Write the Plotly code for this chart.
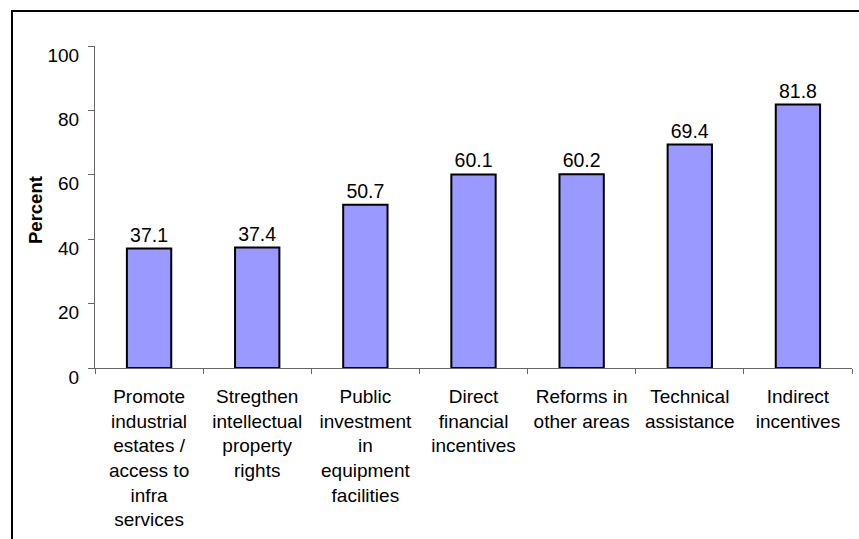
import plotly.graph_objects as go

categories = [
    "Promote<br>industrial<br>estates /<br>access to<br>infra<br>services",
    "Stregthen<br>intellectual<br>property<br>rights",
    "Public<br>investment<br>in<br>equipment<br>facilities",
    "Direct<br>financial<br>incentives",
    "Reforms in<br>other areas",
    "Technical<br>assistance",
    "Indirect<br>incentives",
]
values = [37.1, 37.4, 50.7, 60.1, 60.2, 69.4, 81.8]
y_ticks = [0, 20, 40, 60, 80, 100]

FONT = "Liberation Sans, Arial, sans-serif"

fig = go.Figure(
    go.Bar(
        x=categories,
        y=values,
        marker=dict(color="#9999FF", line=dict(color="black", width=2)),
        text=[f"{v:.1f}" for v in values],
        textposition="outside",
        textfont=dict(family=FONT, size=19.5, color="black"),
        cliponaxis=False,
        width=0.41,
    )
)

fig.update_layout(
    width=859,
    height=539,
    margin=dict(l=95, r=7, t=46, b=171),
    paper_bgcolor="white",
    plot_bgcolor="white",
    font=dict(family=FONT, size=19, color="black"),
    showlegend=False,
    xaxis=dict(
        showline=True,
        linecolor="#666666",
        linewidth=1,
        ticks="outside",
        tickson="boundaries",
        ticklen=5,
        tickcolor="#666666",
        tickfont=dict(family=FONT, size=19, color="black"),
        ticklabelstandoff=11,
        showgrid=False,
        zeroline=False,
    ),
    yaxis=dict(
        range=[0, 100],
        tickvals=y_ticks,
        showline=True,
        linecolor="#666666",
        linewidth=1,
        ticks="outside",
        ticklen=6,
        tickcolor="#666666",
        tickfont=dict(family=FONT, size=19, color="black"),
        ticklabelshift=9,
        ticklabelstandoff=5,
        showgrid=False,
        zeroline=False,
    ),
    annotations=[
        dict(
            text="<b>Percent</b>",
            xref="paper",
            yref="paper",
            x=(35 - 95) / 757,
            y=(368 - 210) / 322,
            xanchor="center",
            yanchor="middle",
            textangle=-90,
            showarrow=False,
            font=dict(family=FONT, size=18.5, color="black"),
        )
    ],
    shapes=[
        dict(
            type="rect",
            xref="paper",
            yref="paper",
            x0=(12 - 95) / 757,
            x1=1.5,
            y0=-1.0,
            y1=(368 - 11) / 322,
            line=dict(color="black", width=2),
            fillcolor="rgba(0,0,0,0)",
            layer="below",
        )
    ],
)

fig.write_html("out.html")
